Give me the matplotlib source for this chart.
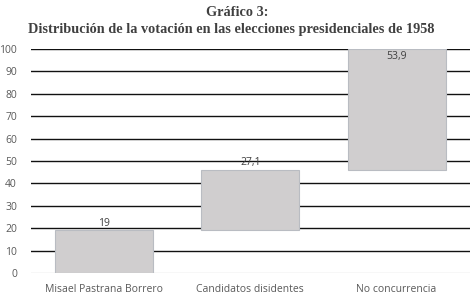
import matplotlib
matplotlib.use('Agg')
import matplotlib.pyplot as plt

# datos del grafico (porcentajes)
categorias = ['Misael Pastrana Borrero', 'Candidatos disidentes', 'No concurrencia']
valores = [19, 27.1, 53.9]
etiquetas = ['19', '27,1', '53,9']
yticks = [0, 10, 20, 30, 40, 50, 60, 70, 80, 90, 100]

bases = [0, valores[0], valores[0] + valores[1]]
x = list(range(len(categorias)))

fig = plt.figure(figsize=(4.75, 3.06), dpi=100)
ax = fig.add_axes([0.065, 0.108, 0.924, 0.732])

for yy in yticks[1:]:
    ax.axhline(yy, color='#111111', lw=1.0, zorder=1)
ax.axhline(0, color='#d9d9d9', lw=1.0, zorder=1)

ax.bar(x, valores, bottom=bases, width=0.67, color='#d0cecf',
       edgecolor='#b9bcc2', linewidth=0.8, zorder=2)

for i in x:
    top = bases[i] + valores[i]
    if top >= 99:
        ax.text(i, top - 1.0, etiquetas[i], ha='center', va='top',
                fontsize=7.5, color='#404040', family='Open Sans', zorder=3)
    else:
        ax.text(i, top + 0.8, etiquetas[i], ha='center', va='bottom',
                fontsize=7.5, color='#404040', family='Open Sans', zorder=3)

ax.set_xlim(-0.5, 2.5)
ax.set_ylim(0, 100)
ax.set_yticks(yticks)
ax.set_xticks(x)
ax.set_xticklabels(categorias)
ax.tick_params(length=0, labelsize=7.5, colors='#595959', pad=8)
ax.tick_params(axis='y', pad=10)
for lab in ax.get_xticklabels() + ax.get_yticklabels():
    lab.set_family('Open Sans')
for s in ax.spines.values():
    s.set_visible(False)

fig.text(0.5, 0.96, 'Gráfico 3:', ha='center', va='center', fontsize=10.3,
         family='Liberation Serif', weight='bold', color='#404040')
fig.text(0.487, 0.905, 'Distribución de la votación en las elecciones presidenciales de 1958',
         ha='center', va='center', fontsize=10.3, family='Liberation Serif',
         weight='bold', color='#404040')

fig.savefig('out.png', dpi=100)
